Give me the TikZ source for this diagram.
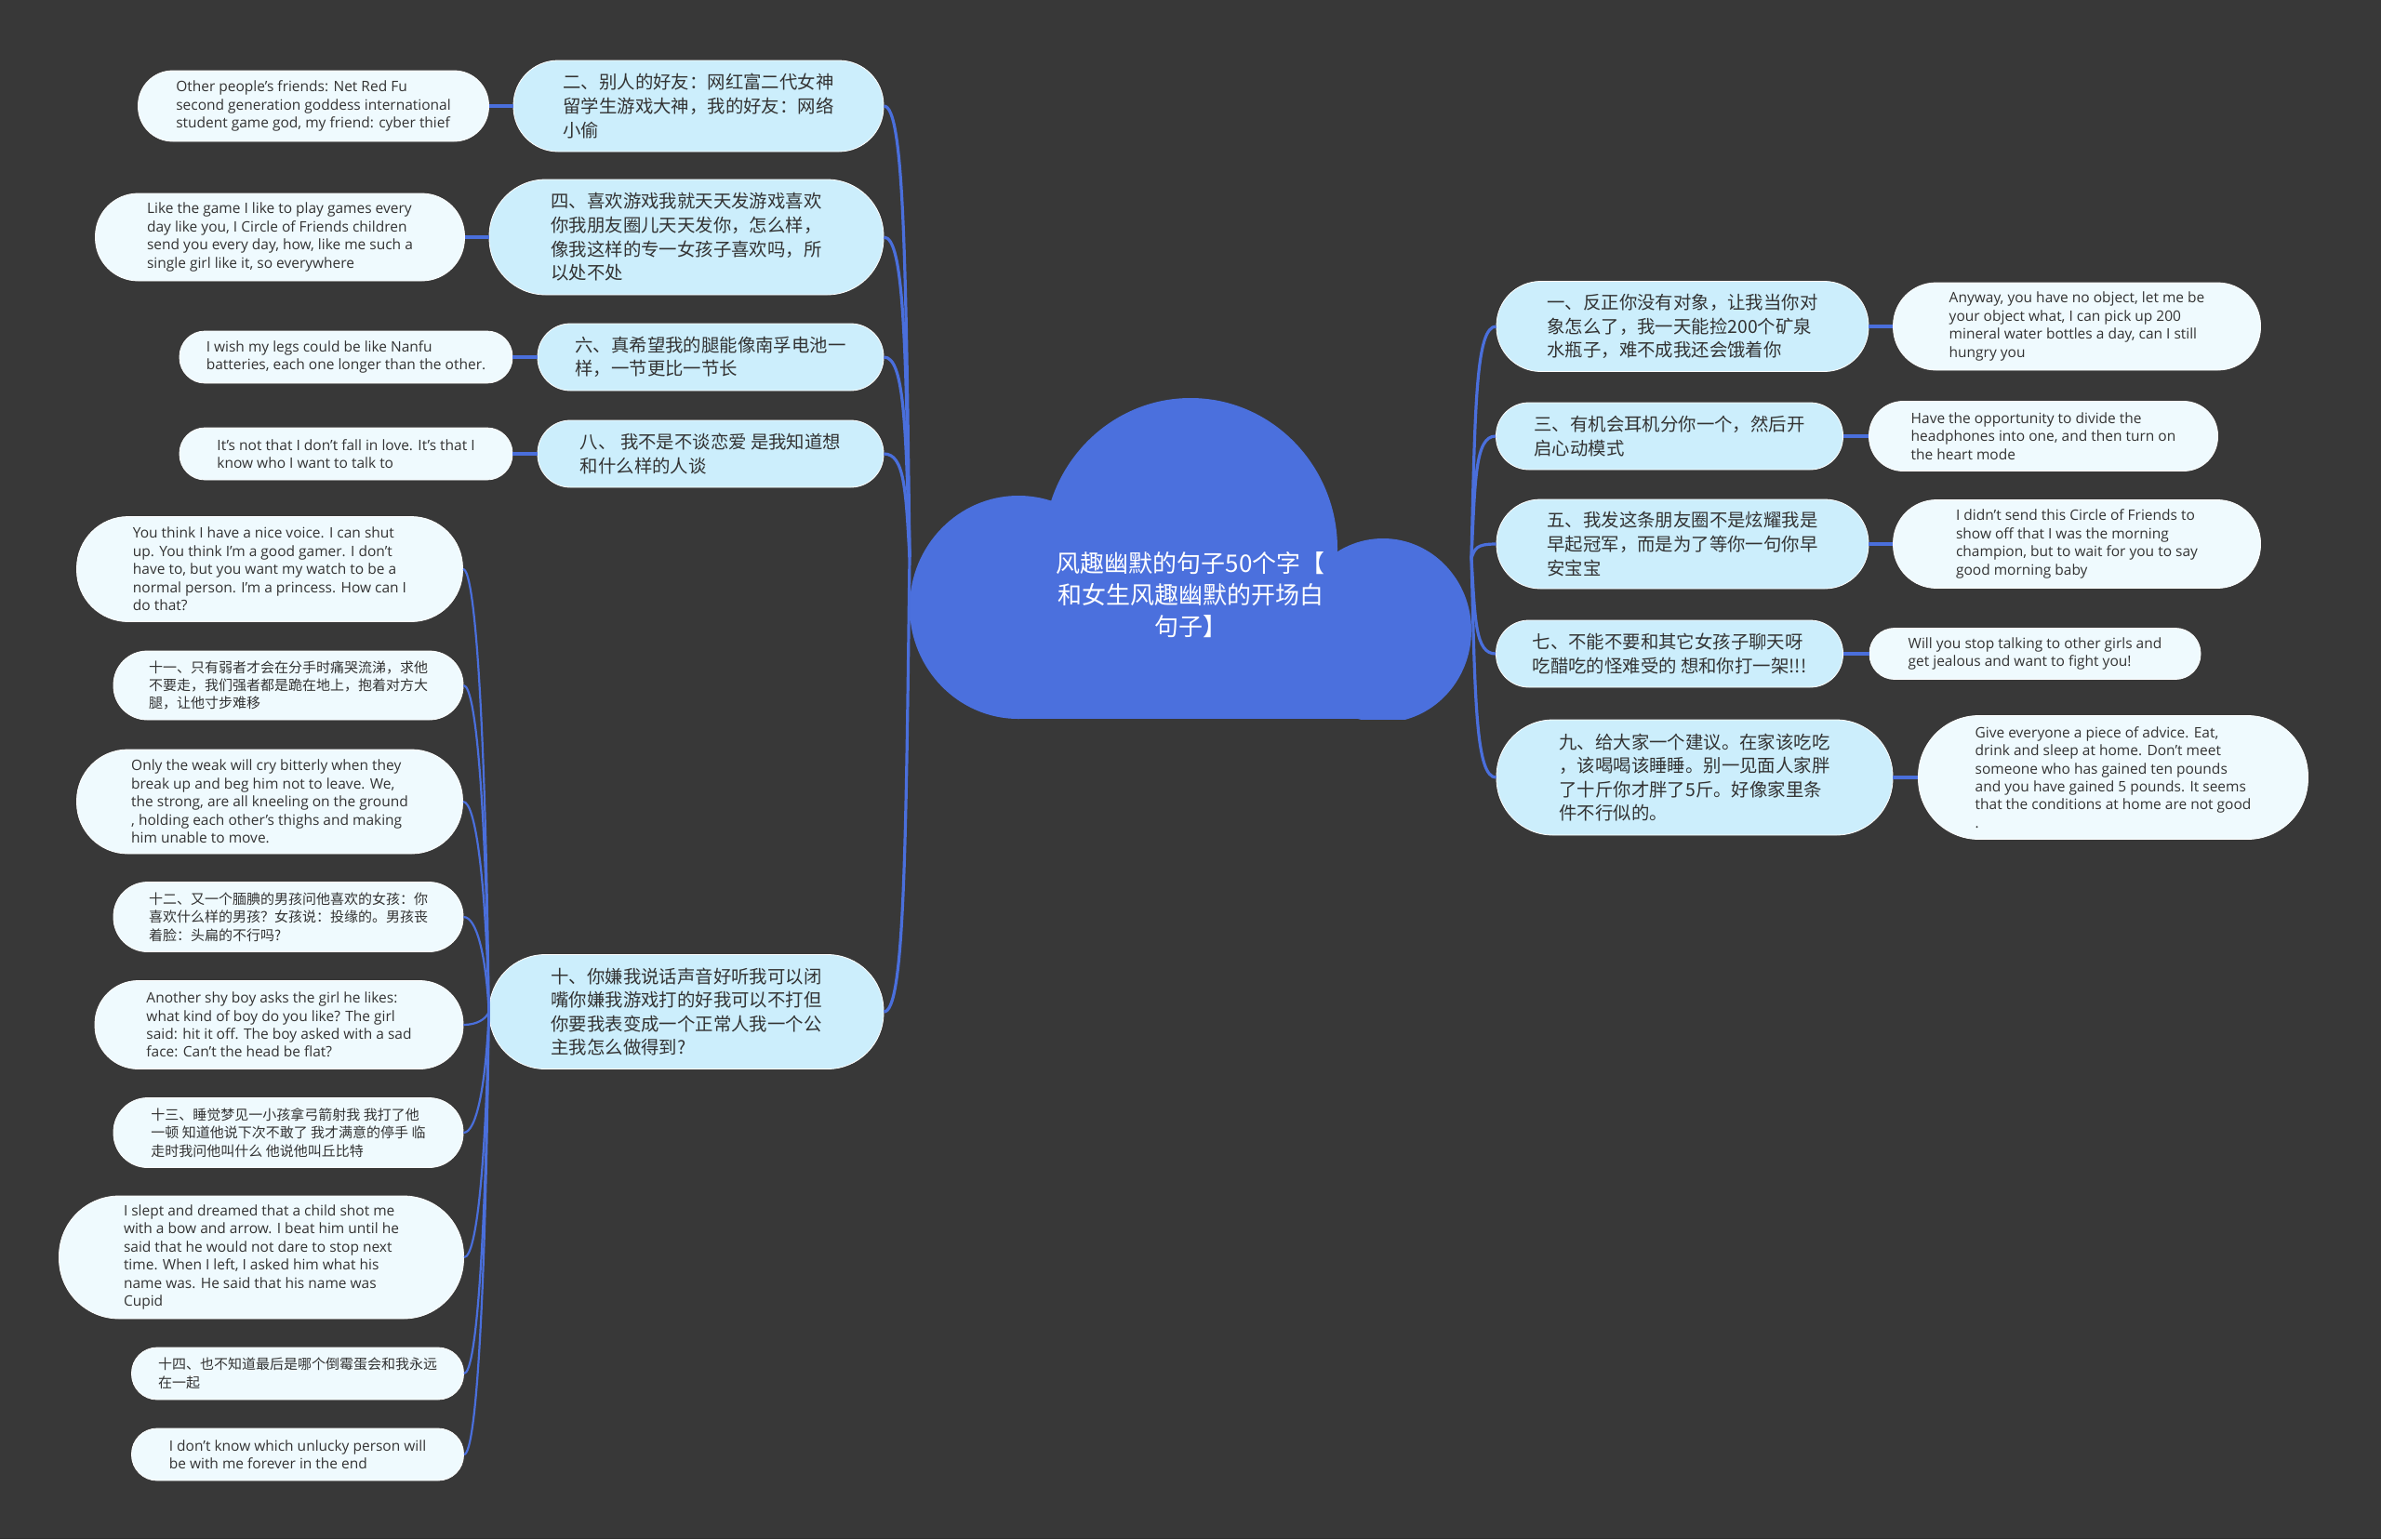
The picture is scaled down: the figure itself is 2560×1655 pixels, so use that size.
\documentclass[tikz,border=0pt]{standalone}
\usepackage{fontspec}
\setmainfont{Open Sans}
\newfontfamily\cjk{Noto Sans CJK SC}
\definecolor{bg}{HTML}{383838}
\definecolor{cloudc}{HTML}{4B70DD}
\definecolor{linkc}{HTML}{4A6FDC}
\definecolor{mainfill}{HTML}{CCEEFC}
\definecolor{leaffill}{HTML}{EFFAFE}
\definecolor{txt}{HTML}{333333}
\begin{document}
\begin{tikzpicture}[x=0.5pt,y=-0.5pt,
  pill/.style 2 args={rectangle, minimum width=#1, minimum height=#2, rounded corners=0.49*#2, inner sep=0pt, align=left, text=txt, draw=white, line width=0.4pt},
  mainbox/.style={fill=mainfill, font=\cjk\fontsize{9.7}{12.8}\selectfont},
  leafcn/.style={fill=leaffill, font=\cjk\fontsize{7.5}{9.7}\selectfont},
  leafen/.style={fill=leaffill, font=\fontsize{7.75}{9.7}\selectfont},
  titletext/.style={text=white, align=center, font=\cjk\fontsize{13}{17}\selectfont},
  link/.style={draw=linkc, line width=1.6pt},
  sublink/.style={draw=linkc, line width=1.1pt}]
\useasboundingbox (0,0) rectangle (2560,1655);
\fill[bg] (0,0) rectangle (2560,1655);
% cloud
\begin{scope}
\clip (960,400) rectangle (1600,773);
\fill[cloudc] (1280,590) ellipse [x radius=79pt, y radius=81pt];
\fill[cloudc] (1095,653) ellipse [x radius=58.5pt, y radius=60pt];
\fill[cloudc] (1487,678) ellipse [x radius=47.5pt, y radius=49.5pt];
\fill[cloudc] (1095,640) rectangle (1487,773);
\end{scope}
\node[titletext] (T) at (1280,640) {风趣幽默的句子50个字【\\和女生风趣幽默的开场白\\句子】};
\coordinate (Jl) at (978,599);
\coordinate (Jr) at (1582,600);
% left main
\node[pill={199pt}{49pt}, mainbox] (A2) at (751,114) {二、别人的好友：网红富二代女神\\留学生游戏大神，我的好友：网络\\小偷};
\node[pill={212pt}{62pt}, mainbox] (A4) at (738,255) {四、喜欢游戏我就天天发游戏喜欢\\你我朋友圈儿天天发你，怎么样，\\像我这样的专一女孩子喜欢吗，所\\以处不处};
\node[pill={186pt}{36pt}, mainbox] (A6) at (764,384) {六、真希望我的腿能像南孚电池一\\样，一节更比一节长};
\node[pill={186pt}{36pt}, mainbox] (A8) at (764,488) {八、 我不是不谈恋爱 是我知道想\\和什么样的人谈};
\node[pill={212pt}{61.5pt}, mainbox] (A10) at (738,1088) {十、你嫌我说话声音好听我可以闭\\嘴你嫌我游戏打的好我可以不打但\\你要我表变成一个正常人我一个公\\主我怎么做得到?};
% left leaves
\node[pill={188.5pt}{38pt}, leafen] (L2) at (337,114) {Other people's friends: Net Red Fu\\second generation goddess international\\student game god, my friend: cyber thief};
\node[pill={198.5pt}{47pt}, leafen] (L4) at (301,255) {Like the game I like to play games every\\day like you, I Circle of Friends children\\send you every day, how, like me such a\\single girl like it, so everywhere};
\node[pill={179pt}{28pt}, leafen] (L6) at (372,384) {I wish my legs could be like Nanfu\\batteries, each one longer than the other.};
\node[pill={179pt}{28pt}, leafen] (L8) at (372,488) {It's not that I don't fall in love. It's that I\\know who I want to talk to};
\node[pill={207.5pt}{56.5pt}, leafen] (C1) at (290,612) {You think I have a nice voice. I can shut\\up. You think I'm a good gamer. I don't\\have to, but you want my watch to be a\\normal person. I'm a princess. How can I\\do that?};
\node[pill={188pt}{37pt}, leafcn] (C2) at (310,737) {十一、只有弱者才会在分手时痛哭流涕，求他\\不要走，我们强者都是跪在地上，抱着对方大\\腿，让他寸步难移};
\node[pill={207.5pt}{56pt}, leafen] (C3) at (290,862) {Only the weak will cry bitterly when they\\break up and beg him not to leave. We,\\the strong, are all kneeling on the ground\\, holding each other's thighs and making\\him unable to move.};
\node[pill={188pt}{37.5pt}, leafcn] (C4) at (310,986) {十二、又一个腼腆的男孩问他喜欢的女孩：你\\喜欢什么样的男孩？女孩说：投缘的。男孩丧\\着脸：头扁的不行吗?};
\node[pill={198pt}{47.5pt}, leafen] (C5) at (300,1102) {Another shy boy asks the girl he likes:\\what kind of boy do you like? The girl\\said: hit it off. The boy asked with a sad\\face: Can't the head be flat?};
\node[pill={188pt}{37.5pt}, leafcn] (C6) at (310,1218) {十三、睡觉梦见一小孩拿弓箭射我 我打了他\\一顿 知道他说下次不敢了 我才满意的停手 临\\走时我问他叫什么 他说他叫丘比特};
\node[pill={217.5pt}{66pt}, leafen] (C7) at (281,1352) {I slept and dreamed that a child shot me\\with a bow and arrow. I beat him until he\\said that he would not dare to stop next\\time. When I left, I asked him what his\\name was. He said that his name was\\Cupid};
\node[pill={178.5pt}{28pt}, leafcn] (C8) at (320,1477) {十四、也不知道最后是哪个倒霉蛋会和我永远\\在一起};
\node[pill={178.5pt}{28pt}, leafen] (C9) at (320,1564) {I don't know which unlucky person will\\be with me forever in the end};
% right main
\node[pill={200pt}{48.5pt}, mainbox] (R1) at (1809,351) {一、反正你没有对象，让我当你对\\象怎么了，我一天能捡200个矿泉\\水瓶子，难不成我还会饿着你};
\node[pill={186.5pt}{36pt}, mainbox] (R3) at (1795,469) {三、有机会耳机分你一个，然后开\\启心动模式};
\node[pill={200pt}{48pt}, mainbox] (R5) at (1809,585) {五、我发这条朋友圈不是炫耀我是\\早起冠军，而是为了等你一句你早\\安宝宝};
\node[pill={186.5pt}{36pt}, mainbox] (R7) at (1795,703) {七、不能不要和其它女孩子聊天呀\\吃醋吃的怪难受的 想和你打一架!!!};
\node[pill={213pt}{62pt}, mainbox] (R9) at (1822,836) {九、给大家一个建议。在家该吃吃\\，该喝喝该睡睡。别一见面人家胖\\了十斤你才胖了5斤。好像家里条\\件不行似的。};
% right leaves
\node[pill={197.5pt}{47pt}, leafen] (RL1) at (2233,351) {Anyway, you have no object, let me be\\your object what, I can pick up 200\\mineral water bottles a day, can I still\\hungry you};
\node[pill={187.5pt}{37.5pt}, leafen] (RL3) at (2197,469) {Have the opportunity to divide the\\headphones into one, and then turn on\\the heart mode};
\node[pill={197.5pt}{47.5pt}, leafen] (RL5) at (2233,585) {I didn't send this Circle of Friends to\\show off that I was the morning\\champion, but to wait for you to say\\good morning baby};
\node[pill={178pt}{27.5pt}, leafen] (RL7) at (2188,703) {Will you stop talking to other girls and\\get jealous and want to fight you!};
\node[pill={209.5pt}{66.5pt}, leafen] (RL9) at (2272,836) {Give everyone a piece of advice. Eat,\\drink and sleep at home. Don't meet\\someone who has gained ten pounds\\and you have gained 5 pounds. It seems\\that the conditions at home are not good\\.};
% connectors: centre to left main
\draw[link] (A2.east) .. controls +(22,0) and +(-4,-315) .. (Jl);
\draw[link] (A4.east) .. controls +(22,0) and +(-4,-224) .. (Jl);
\draw[link] (A6.east) .. controls +(22,0) and +(-4,-140) .. (Jl);
\draw[link] (A8.east) .. controls +(22,0) and +(-4,-72) .. (Jl);
\draw[link] (A10.east) .. controls +(22,0) and +(-4,318) .. (Jl);
% centre to right main
\draw[link] (R1.west) .. controls +(-22,0) and +(4,-162) .. (Jr);
\draw[link] (R3.west) .. controls +(-22,0) and +(4,-85) .. (Jr);
\draw[link] (R5.west) .. controls +(-22,0) and +(4,-10) .. (Jr);
\draw[link] (R7.west) .. controls +(-22,0) and +(4,67) .. (Jr);
\draw[link] (R9.west) .. controls +(-22,0) and +(4,153) .. (Jr);
% main to leaves
\draw[link] (A2.west) -- (L2.east);
\draw[link] (A4.west) -- (L4.east);
\draw[link] (A6.west) -- (L6.east);
\draw[link] (A8.west) -- (L8.east);
\draw[link] (R1.east) -- (RL1.west);
\draw[link] (R3.east) -- (RL3.west);
\draw[link] (R5.east) -- (RL5.west);
\draw[link] (R7.east) -- (RL7.west);
\draw[link] (R9.east) -- (RL9.west);
% children of A10
\draw[sublink] (C1.east) .. controls +(14,0) and +(-3,-286) .. (A10.west);
\draw[sublink] (C2.east) .. controls +(14,0) and +(-3,-211) .. (A10.west);
\draw[sublink] (C3.east) .. controls +(14,0) and +(-3,-136) .. (A10.west);
\draw[sublink] (C4.east) .. controls +(14,0) and +(-3,-61) .. (A10.west);
\draw[sublink] (C5.east) .. controls +(14,0) and +(-3,8) .. (A10.west);
\draw[sublink] (C6.east) .. controls +(14,0) and +(-3,78) .. (A10.west);
\draw[sublink] (C7.east) .. controls +(14,0) and +(-3,158) .. (A10.west);
\draw[sublink] (C8.east) .. controls +(14,0) and +(-3,233) .. (A10.west);
\draw[sublink] (C9.east) .. controls +(14,0) and +(-3,286) .. (A10.west);
\end{tikzpicture}
\end{document}
